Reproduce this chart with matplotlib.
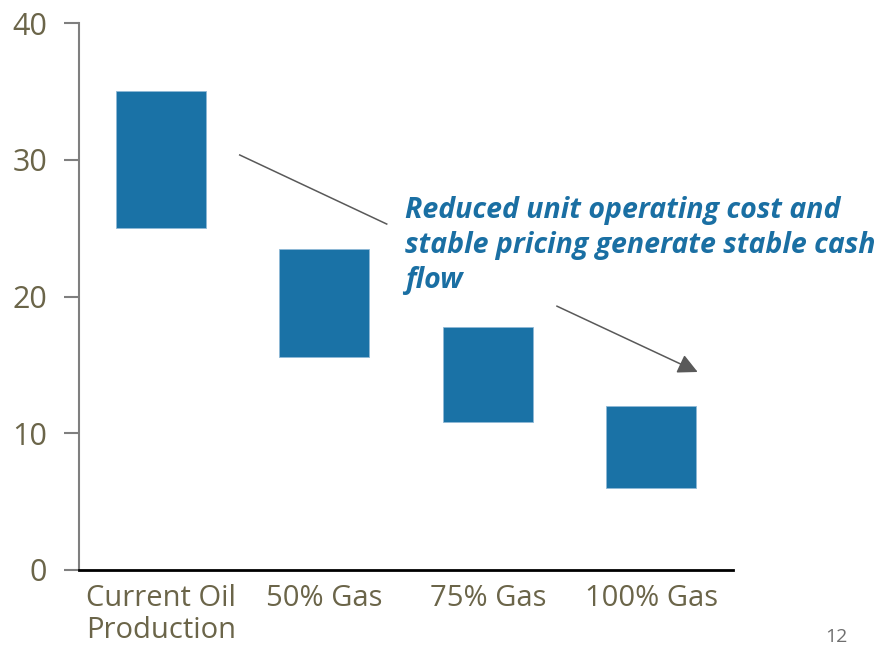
import matplotlib.pyplot as plt

# floating ranges per scenario
categories = ["Current Oil\nProduction", "50% Gas", "75% Gas", "100% Gas"]
range_low = [25.0, 15.6, 10.8, 6.0]
range_high = [35.0, 23.5, 17.8, 12.0]
y_ticks = [0, 10, 20, 30, 40]

plt.rcParams['font.family'] = ['Open Sans', 'DejaVu Sans']

fig = plt.figure(figsize=(8.89, 6.45), dpi=100)
ax = fig.add_axes([0.0889, 0.1163, 0.7356, 0.848])

bar_color = "#1a72a6"
label_color = "#6b6549"

heights = [h - l for l, h in zip(range_low, range_high)]
ax.bar(range(len(categories)), heights, bottom=range_low, width=0.55,
       color=bar_color, edgecolor="#8fb9d6", linewidth=0.6)

ax.set_xlim(-0.5, 3.5)
ax.set_ylim(0, 40)
ax.set_yticks(y_ticks)
ax.set_xticks(range(len(categories)))
ax.set_xticklabels(categories, multialignment="left", linespacing=1.12)
ax.tick_params(axis="x", length=0, pad=10, labelsize=21, labelcolor=label_color)
ax.tick_params(axis="y", length=11, width=1.5, color="#7f7f7f", pad=12,
               labelsize=22, labelcolor=label_color)

for side in ["top", "right"]:
    ax.spines[side].set_visible(False)
ax.spines["left"].set_color("#7f7f7f")
ax.spines["left"].set_linewidth(1.5)
ax.spines["bottom"].set_color("black")
ax.spines["bottom"].set_linewidth(2)

# callout lines
ax.plot([0.483, 1.382], [30.35, 25.3], color="#595959", lw=1.1)
ax.annotate("", xy=(3.284, 14.48), xytext=(2.422, 19.3),
            arrowprops=dict(arrowstyle="-|>,head_length=0.6,head_width=0.3",
                            color="#595959", lw=1.1, mutation_scale=20,
                            shrinkA=0, shrinkB=0))

fig.text(405 / 889, 1 - 196 / 645,
         "Reduced unit operating cost and\nstable pricing generate stable cash\nflow",
         color="#1a6fa3", fontsize=20.5, fontweight="bold", fontstyle="italic",
         va="top", ha="left", linespacing=1.27)

fig.text(825 / 889, 1 - 646 / 645, "12", color="#6f6f6f", fontsize=14,
         va="bottom", ha="left")

fig.savefig("out.png", dpi=100)
